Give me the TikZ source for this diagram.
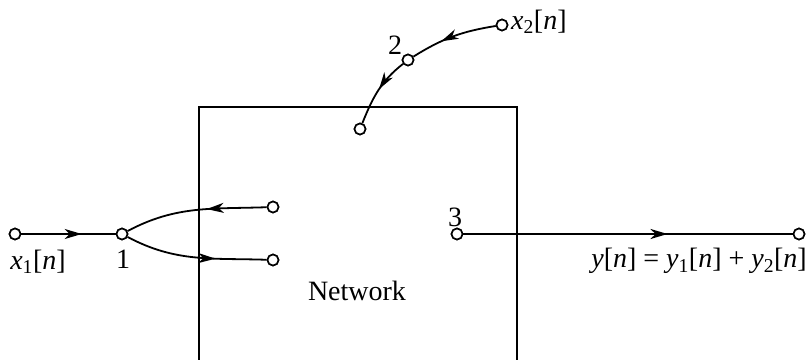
\documentclass[tikz,border=0pt]{standalone}
\usepackage{fontspec}
\setmainfont{Liberation Serif}
\usetikzlibrary{arrows.meta,decorations.markings}
\newcommand{\mv}[1]{\textit{#1}}
\begin{document}
\begin{tikzpicture}[x=1pt,y=1pt,
  every node/.style={font=\fontsize{28}{32}\selectfont},
  term/.style={circle,draw,line width=1.6pt,minimum size=11pt,inner sep=0pt,fill=white},
  wire/.style={line width=1.8pt},
  lbl/.style={inner sep=0pt},
  midarrow/.style={postaction={decorate},decoration={markings,
     mark=at position #1 with {\arrow{Stealth[length=17pt,width=10pt,inset=5pt]}}}}]
\useasboundingbox (0,0) rectangle (808,359);
% box (open at the bottom)
\draw[wire] (199,-5) -- (199,252) -- (517,252) -- (517,-5);
% terminals
\node[term] (xin) at (15,125) {};
\node[term] (n1) at (122,125) {};
\node[term] (upE) at (273,152) {};
\node[term] (loE) at (273,99) {};
\node[term] (topC) at (360,230) {};
\node[term] (n2) at (408,299) {};
\node[term] (xsrc) at (502,334) {};
\node[term] (n3) at (457,125) {};
\node[term] (outE) at (799,125) {};
% connectors
\draw[wire,midarrow=0.64] (xin) -- (n1);
\draw[wire,midarrow=0.42] (upE) to[out=182,in=28] (n1);
\draw[wire,midarrow=0.64] (n1) to[out=-28,in=178] (loE);
\draw[wire,midarrow=0.64] (xsrc) to[out=189,in=32] (n2);
\draw[wire,midarrow=0.48] (n2) to[out=218,in=68] (topC);
\draw[wire,midarrow=0.62] (n3) -- (outE);
% redraw terminals on top
\foreach \n in {xin,n1,upE,loE,topC,n2,xsrc,n3,outE}
  \draw[line width=1.6pt,fill=white] (\n) circle (5.5pt);
% labels
\node[lbl] (lx1) at (38,97) {\mv{x}\textsubscript{1}[\mv{n}]};
\node[lbl] (l1) at (123,100) {1};
\node[lbl] (l2) at (395,314) {2};
\node[lbl,anchor=west] (lx2) at (511,337) {\mv{x}\textsubscript{2}[\mv{n}]};
\node[lbl] (l3) at (455,142) {3};
\node[lbl,anchor=east] (ly) at (807,98) {\mv{y}[\mv{n}] = \mv{y}\textsubscript{1}[\mv{n}] + \mv{y}\textsubscript{2}[\mv{n}]};
\node[lbl] (net) at (357,68) {Network};
\end{tikzpicture}
\end{document}
